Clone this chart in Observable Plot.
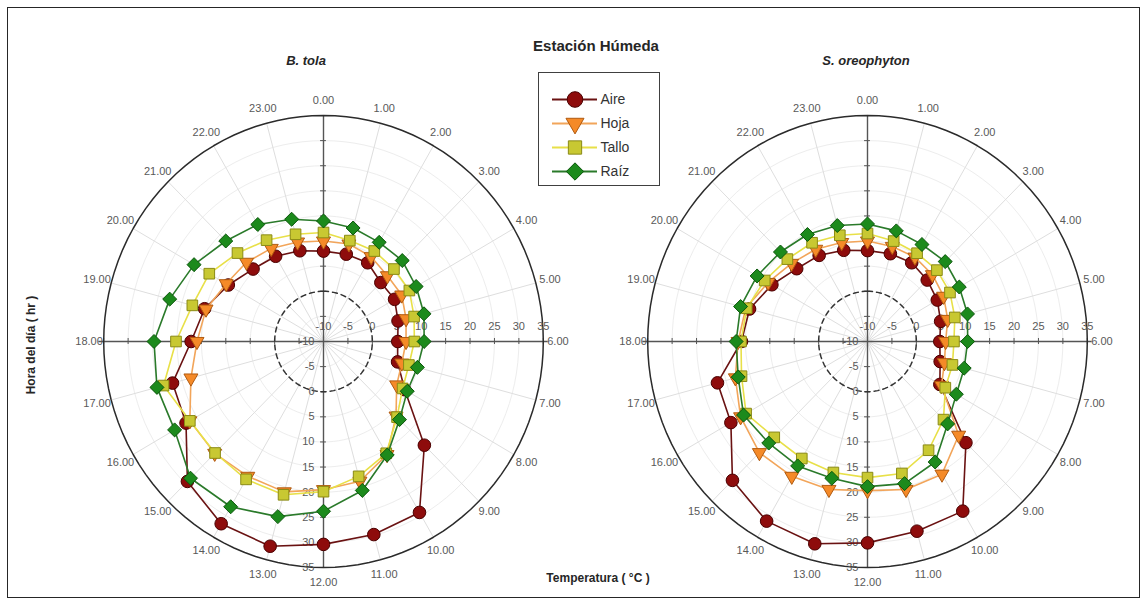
<!DOCTYPE html>
<html>
<head>
<meta charset="utf-8">
<script src="https://cdn.jsdelivr.net/npm/d3@7"></script>
<script src="https://cdn.jsdelivr.net/npm/@observablehq/plot@0.6"></script>
<style>
  body { margin: 0; background: #fff; }
  #fig { position: relative; width: 1145px; height: 603px; font-family: "Liberation Sans", Arial, sans-serif; }
  #fig > svg { position: absolute; left: 0; top: 0; }
  .border { position: absolute; left: 7px; top: 7px; width: 1131px; height: 589px; border: 1px solid #262626; }
  .lbl { position: absolute; white-space: nowrap; color: #262626; font-weight: bold; transform: translate(-50%, -50%); }
  #legend { position: absolute; left: 538px; top: 72px; width: 122px; height: 114px; border: 1px solid #404040; background: #fff; box-sizing: border-box; }
  #legend svg { display: block; }
</style>
</head>
<body>
<div id="fig">
  <div class="border"></div>
  <div class="lbl" style="left:596px;top:45px;font-size:15px;">Estación Húmeda</div>
  <div class="lbl" style="left:306px;top:60px;font-size:13px;font-style:italic;">B. tola</div>
  <div class="lbl" style="left:866px;top:60px;font-size:13px;font-style:italic;">S. oreophyton</div>
  <div class="lbl" style="left:598px;top:578px;font-size:12px;">Temperatura ( °C )</div>
  <div class="lbl" style="left:31px;top:345px;font-size:12px;transform:translate(-50%,-50%) rotate(-90deg);">Hora del día ( hr )</div>
  <div id="legend"></div>
</div>
<script>
// Hour of day (angular axis) and temperature (radial axis)
const hourLabels = ["0.00","1.00","2.00","3.00","4.00","5.00","6.00","7.00","8.00","9.00","10.00","11.00",
                    "12.00","13.00","14.00","15.00","16.00","17.00","18.00","19.00","20.00","21.00","22.00","23.00"];
const tempTicks = [-10, -5, 0, 5, 10, 15, 20, 25, 30, 35];
const charts = ["B. tola", "S. oreophyton"];
const seriesNames = ["Aire", "Hoja", "Tallo", "Raíz"];

// B. tola — temperature (°C) at each hour 0..23
const tolaAire  = [8.0, 8.0, 8.1, 6.6, 6.8, 5.8, 5.2, 5.7, 9.2, 19.2, 29.3, 29.8, 30.4, 32.2, 31.9, 29.4, 22.5, 22.0, 17.1, 15.2, 12.5, 10.4, 9.6, 8.7];
const tolaHoja  = [10.0, 10.1, 9.5, 8.5, 8.5, 7.5, 6.9, 6.6, 7.3, 11.0, 16.0, 18.8, 19.5, 21.0, 21.0, 21.5, 21.6, 18.1, 15.9, 14.9, 13.0, 12.3, 11.4, 10.5];
const tolaTallo = [11.7, 10.8, 10.8, 10.4, 10.3, 9.2, 8.6, 8.1, 8.7, 11.3, 15.7, 17.8, 19.9, 21.6, 21.7, 21.4, 21.6, 23.9, 20.2, 17.8, 17.0, 14.9, 13.3, 12.1];
const tolaRaiz  = [14.0, 13.4, 12.8, 12.8, 11.9, 11.3, 10.6, 9.9, 9.8, 12.0, 16.1, 20.7, 23.8, 26.1, 28.0, 28.5, 25.2, 25.3, 24.7, 22.6, 20.6, 18.3, 16.9, 15.2];

// S. oreophyton — temperature (°C) at each hour 0..23
const oreoAire  = [8.1, 8.1, 8.1, 7.3, 6.5, 5.5, 4.8, 5.4, 7.1, 18.5, 29.0, 29.1, 30.1, 31.7, 31.3, 29.1, 22.3, 21.8, 15.8, 15.0, 12.6, 10.5, 9.8, 8.8];
const oreoHoja  = [10.0, 9.6, 9.4, 8.8, 8.0, 7.0, 6.0, 6.3, 7.5, 16.4, 20.5, 20.5, 19.7, 20.5, 21.0, 21.3, 20.0, 18.0, 16.5, 15.8, 13.5, 12.0, 11.2, 10.4];
const oreoTallo = [11.5, 10.7, 10.3, 10.1, 9.5, 8.5, 7.7, 8.0, 8.4, 12.0, 15.0, 17.2, 17.1, 17.0, 16.9, 17.0, 18.7, 16.7, 15.9, 15.6, 14.3, 13.2, 12.7, 11.9];
const oreoRaiz  = [13.4, 12.8, 12.3, 12.5, 11.7, 11.2, 10.5, 10.5, 11.0, 13.2, 17.7, 19.3, 18.9, 18.2, 18.6, 18.6, 19.3, 17.4, 16.9, 16.9, 16.1, 15.2, 14.6, 13.9];

const chartSeries = {
  "B. tola": [tolaAire, tolaHoja, tolaTallo, tolaRaiz],
  "S. oreophyton": [oreoAire, oreoHoja, oreoTallo, oreoRaiz]
};

// radial axis runs from -10 °C at the centre to 35 °C at the outer circle
const rMin = -10, rMax = 35, span = rMax - rMin;
const angle = h => h / 24 * 2 * Math.PI;          // clockwise from the top
const px = (v, h) => (v - rMin) * Math.sin(angle(h));
const py = (v, h) => (v - rMin) * Math.cos(angle(h));

// down-pointing triangle marker
const triangleDown = {
  draw(context, size) {
    const y = Math.sqrt(size / (3 * Math.sqrt(3)));
    const s = Math.sqrt(3);
    context.moveTo(0, 2 * y);
    context.lineTo(-s * y, -y);
    context.lineTo(s * y, -y);
    context.closePath();
  }
};

const styles = {
  "Aire":  {line: "#6a1212", fill: "#8e0c0c", stroke: "#4a0000", symbol: d3.symbolCircle,   r: 6.3},
  "Hoja":  {line: "#f2a55a", fill: "#f58a28", stroke: "#b05a10", symbol: triangleDown,      r: 5.2},
  "Tallo": {line: "#e8e048", fill: "#c8c832", stroke: "#8a8a16", symbol: d3.symbolSquare,   r: 6.0},
  "Raíz":  {line: "#2a7a2a", fill: "#1c8a1c", stroke: "#0a560a", symbol: d3.symbolDiamond2, r: 6.3}
};

const rows = [];
for (const chart of charts) {
  chartSeries[chart].forEach((values, si) => {
    values.forEach((value, hour) => rows.push({chart, series: seriesNames[si], hour, value}));
  });
}

// reference circles (in °C)
const circle = (t) => d3.range(0, 361, 3).map(deg => {
  const a = deg * Math.PI / 180, r = t - rMin;
  return {t, x: r * Math.sin(a), y: r * Math.cos(a)};
});
const faintRings = tempTicks.filter(t => t > rMin && t !== 0 && t < rMax).flatMap(circle);
const bothSides = tempTicks.filter(t => t > rMin).flatMap(t => [t - rMin, -(t - rMin)]);

// panel geometry: each facet is 544.5 px wide, 220 px per 45 °C horizontally
const panelHalf = 272.25 / 220 * span;
const cy = 341, ry = 226;

const seriesMarks = seriesNames.flatMap(name => {
  const st = styles[name];
  const data = rows.filter(d => d.series === name);
  return [
    Plot.line(data, {fx: "chart", x: d => px(d.value, d.hour), y: d => py(d.value, d.hour),
      curve: "linear-closed", stroke: st.line, strokeWidth: 1.6}),
    Plot.dot(data, {fx: "chart", x: d => px(d.value, d.hour), y: d => py(d.value, d.hour),
      r: st.r, symbol: st.symbol, fill: st.fill, stroke: st.stroke, strokeWidth: 1})
  ];
});

const chart = Plot.plot({
  width: 1145,
  height: 603,
  marginLeft: 50.25,
  marginRight: 5.75,
  marginTop: 0,
  marginBottom: 0,
  style: {fontFamily: "Liberation Sans, Arial, sans-serif", fontSize: "11px", background: "transparent", overflow: "visible"},
  fx: {domain: charts, padding: 0, axis: null},
  x: {domain: [-panelHalf, panelHalf], axis: null},
  y: {domain: [-span, span], range: [cy + ry, cy - ry], axis: null},
  marks: [
    // faint concentric grid and hourly spokes
    Plot.line(faintRings, {x: "x", y: "y", z: "t", stroke: "#ededed", strokeWidth: 1}),
    Plot.link(hourLabels, {x1: 0, y1: 0, x2: (d, i) => span * Math.sin(angle(i)), y2: (d, i) => span * Math.cos(angle(i)),
      stroke: "#dedede", strokeWidth: 1}),
    // axes through the centre with ticks every 5 °C
    Plot.ruleY([0], {x1: -span - 1, x2: span + 1, stroke: "#555", strokeWidth: 1.4}),
    Plot.ruleX([0], {y1: -span, y2: span, stroke: "#555", strokeWidth: 1.4}),
    Plot.ruleX(bothSides, {x: d => d, y1: -0.6, y2: 0.6, stroke: "#555", strokeWidth: 1}),
    Plot.ruleY(bothSides, {y: d => d, x1: -0.6, x2: 0.6, stroke: "#555", strokeWidth: 1}),
    // 0 °C reference and the outer 35 °C circle
    Plot.line(circle(0), {x: "x", y: "y", stroke: "#333", strokeWidth: 1.5, strokeDasharray: "5,4"}),
    Plot.line(circle(rMax), {x: "x", y: "y", stroke: "#2b2b2b", strokeWidth: 1.5}),
    // temperature labels along both axes
    Plot.text(tempTicks, {x: d => d - rMin, y: 0, dy: -15, text: d => String(d), fill: "#595959"}),
    Plot.text(tempTicks, {x: 0, y: d => -(d - rMin), dx: -9, textAnchor: "end", text: d => String(d), fill: "#595959"}),
    // hour labels around the circle
    Plot.text(hourLabels, {x: (d, i) => (span + 3) * Math.sin(angle(i)), y: (d, i) => (span + 3) * Math.cos(angle(i)),
      text: d => d, fill: "#595959"}),
    ...seriesMarks
  ]
});
document.getElementById("fig").prepend(chart);

// legend
const legend = Plot.plot({
  width: 120,
  height: 112,
  margin: 0,
  style: {fontFamily: "Liberation Sans, Arial, sans-serif", fontSize: "14px", background: "transparent"},
  x: {domain: [0, 120], range: [0, 120], axis: null},
  y: {type: "point", padding: 0, domain: seriesNames, range: [25, 99], axis: null},
  marks: [
    ...seriesNames.flatMap(name => {
      const st = styles[name];
      return [
        Plot.ruleY([name], {y: d => d, x1: 13, x2: 58, stroke: st.line, strokeWidth: 1.8}),
        Plot.dot([name], {y: d => d, x: 35.5, r: st.r + 1.5, symbol: st.symbol, fill: st.fill, stroke: st.stroke, strokeWidth: 1})
      ];
    }),
    Plot.text(seriesNames, {y: d => d, x: 61, text: d => d, textAnchor: "start", fill: "#333"})
  ]
});
document.getElementById("legend").append(legend);
</script>
</body>
</html>
